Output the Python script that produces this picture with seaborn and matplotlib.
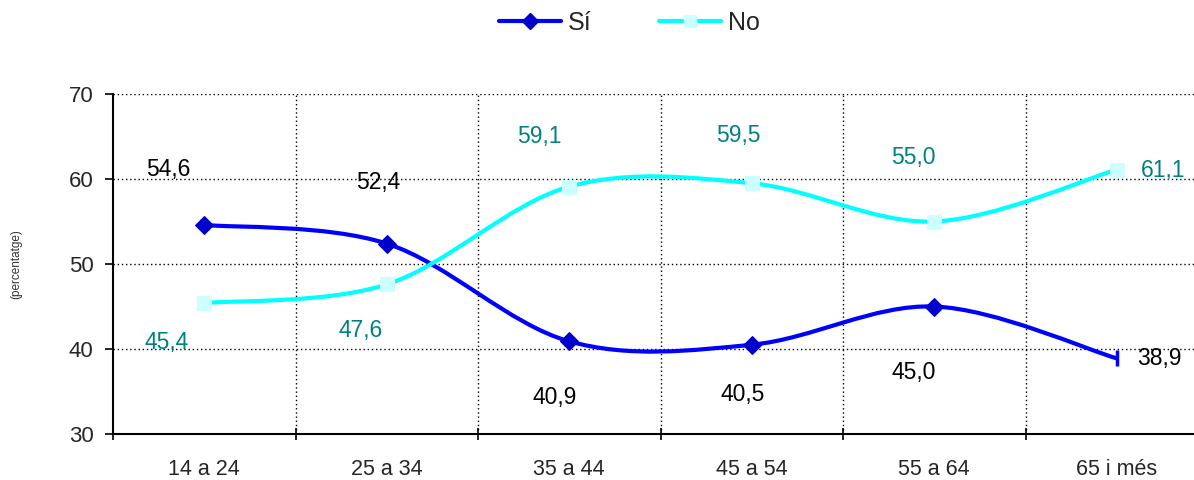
import numpy as np
import pandas as pd
import matplotlib
matplotlib.use("Agg")
import matplotlib.pyplot as plt
import seaborn as sns
from matplotlib.path import Path
from matplotlib.patches import PathPatch
from matplotlib.lines import Line2D
from matplotlib.ticker import FixedLocator

# Data
categories = ["14 a 24", "25 a 34", "35 a 44", "45 a 54", "55 a 64", "65 i més"]
si_values = [54.6, 52.4, 40.9, 40.5, 45.0, 38.9]
no_values = [45.4, 47.6, 59.1, 59.5, 55.0, 61.1]
series_names = ["Sí", "No"]

# label offsets (pixels from point to label centre)
si_offsets = [(-36, 55), (-9, 61), (-15, -56), (-9, -50), (-21, -66), (43, 0)]
no_offsets = [(-38, -39), (-26, -46), (-30, 50), (-13, 48), (-21, 64), (46, -1)]

sns.set_style("white")
plt.rcParams["font.family"] = ["Liberation Sans", "DejaVu Sans"]

fig = plt.figure(figsize=(11.94, 4.80), dpi=100)
ax = fig.add_axes([113 / 1194, 46 / 480, 1095 / 1194, 340 / 480])

x = np.arange(len(categories))
df = pd.DataFrame({
    "cat": np.concatenate([x, x]),
    "val": si_values + no_values,
    "serie": [series_names[0]] * len(x) + [series_names[1]] * len(x),
})


def smooth_path(xs, ys):
    # Excel-style smoothed line: cubic Bezier with Catmull-Rom control points
    pts = np.column_stack([xs, ys]).astype(float)
    ext = np.vstack([pts[0], pts, pts[-1]])
    verts = [pts[0]]
    codes = [Path.MOVETO]
    for i in range(len(pts) - 1):
        p0, p1, p2, p3 = ext[i], ext[i + 1], ext[i + 2], ext[i + 3]
        c1 = p1 + (p2 - p0) / 6
        c2 = p2 - (p3 - p1) / 6
        verts += [c1, c2, p2]
        codes += [Path.CURVE4] * 3
    return Path(verts, codes)


si_color = "#0000FF"
no_color = "#00FFFF"
ax.add_patch(PathPatch(smooth_path(x, si_values), fill=False, ec=si_color, lw=3, zorder=3))
ax.add_patch(PathPatch(smooth_path(x, no_values), fill=False, ec=no_color, lw=3, zorder=3))

# markers
si_df = df[df["serie"] == "Sí"]
no_df = df[df["serie"] == "No"]
sns.lineplot(data=si_df.iloc[:-1], x="cat", y="val", ax=ax, marker="D", markersize=9,
             color="#0000CC", linewidth=0, markeredgecolor="#0000CC", zorder=4, legend=False)
sns.lineplot(data=si_df.iloc[-1:], x="cat", y="val", ax=ax, marker="|", markersize=12,
             color=si_color, linewidth=0, markeredgewidth=2.5, markeredgecolor=si_color,
             zorder=5, legend=False)
sns.lineplot(data=no_df, x="cat", y="val", ax=ax, marker="s", markersize=10,
             color="#CCFFFF", linewidth=0, markeredgecolor="#CCFFFF", zorder=4, legend=False)

# data labels
for xi, v, (dx, dy) in zip(x, si_values, si_offsets):
    ax.annotate(f"{v:.1f}".replace(".", ","), (xi, v), xytext=(dx * 0.72, dy * 0.72),
                textcoords="offset points", ha="center", va="center", fontsize=16.5, color="black")
for xi, v, (dx, dy) in zip(x, no_values, no_offsets):
    ax.annotate(f"{v:.1f}".replace(".", ","), (xi, v), xytext=(dx * 0.72, dy * 0.72),
                textcoords="offset points", ha="center", va="center", fontsize=16.5, color="#008080")

ax.set_xlim(-0.5, len(categories) - 0.5)
ax.set_ylim(30, 70)
ax.set_yticks([30, 40, 50, 60, 70])
ax.set_xticks(x)
ax.set_xticklabels(categories)
ax.xaxis.set_minor_locator(FixedLocator(np.arange(-0.5, len(categories), 1.0)))
ax.tick_params(axis="x", which="major", length=0, pad=18, labelsize=15.5)
ax.tick_params(axis="x", which="minor", direction="inout", length=9, width=1.2, color="black", bottom=True)
ax.tick_params(axis="y", direction="out", length=6, width=1.2, color="black", left=True, pad=8, labelsize=16)
ax.set_xlabel("")
ax.set_ylabel("(percentatge)", fontsize=8.5, color="#333333")
ax.yaxis.set_label_coords(-0.083, 0.5)

ax.grid(False)
for yv in [40, 50, 60, 70]:
    ax.axhline(yv, color="black", lw=1, ls=(0, (1, 2)), zorder=1)
for xv in np.arange(0.5, len(categories) - 0.5, 1.0):
    ax.axvline(xv, color="black", lw=1, ls=(0, (1, 2)), zorder=1)

for s in ["top", "right"]:
    ax.spines[s].set_visible(False)
for s in ["left", "bottom"]:
    ax.spines[s].set_color("black")
    ax.spines[s].set_linewidth(1.5)

handles = [
    Line2D([], [], color=si_color, lw=3, marker="D", markersize=8, markerfacecolor="#0000CC",
           markeredgecolor="#0000CC"),
    Line2D([], [], color=no_color, lw=3, marker="s", markersize=9, markerfacecolor="#CCFFFF",
           markeredgecolor="#CCFFFF"),
]
fig.legend(handles, series_names, loc="center", bbox_to_anchor=(0.527, 0.952), ncol=2,
           frameon=False, fontsize=18, handlelength=2.5, handletextpad=0.25, columnspacing=2.7)

fig.savefig("out.png", dpi=100)
